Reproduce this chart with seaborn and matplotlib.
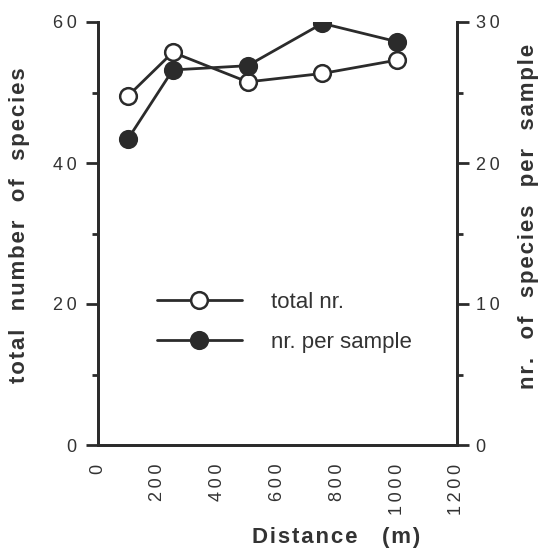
import matplotlib
matplotlib.use("Agg")
import matplotlib.pyplot as plt
from matplotlib.ticker import FuncFormatter
import seaborn as sns
import pandas as pd

distance = [100, 250, 500, 750, 1000]
total_nr = [49.5, 55.7, 51.5, 52.7, 54.6]
nr_per_sample = [21.7, 26.6, 26.9, 29.9, 28.6]

x_ticks = [0, 200, 400, 600, 800, 1000, 1200]
left_ticks = [0, 20, 40, 60]
right_ticks = [0, 10, 20, 30]

sns.set_theme(style="white")
plt.rcParams['font.family'] = ['Liberation Sans', 'DejaVu Sans']

HAIR = "\u200a"
THIN = "\u2009"


def track(s, sp=HAIR):
    return sp.join(s)


def label(words, gap="   "):
    return gap.join(track(w) for w in words)


ink = "#2b2b2b"
txt = "#333333"
fig = plt.figure(figsize=(5.41, 5.53), dpi=100)
ax = fig.add_axes([98/541, 1-445/553, (457-98)/541, (445-22)/553])
ax2 = ax.twinx()

df = pd.DataFrame({"distance": distance, "total": total_nr, "per": nr_per_sample})

sns.lineplot(data=df, x="distance", y="total", ax=ax, color=ink, lw=2.0,
             marker="o", markersize=12, markerfacecolor="white",
             markeredgecolor=ink, markeredgewidth=1.8, label="total nr.", legend=False)
sns.lineplot(data=df, x="distance", y="per", ax=ax2, color=ink, lw=2.0,
             marker="o", markersize=12, markerfacecolor=ink,
             markeredgecolor=ink, markeredgewidth=1.8, label="nr. per sample", legend=False)

ax.set_xlim(0, 1200)
ax.set_ylim(0, 60)
ax2.set_ylim(0, 30)
ax.set_xticks(x_ticks)
ax.set_xticks(range(100, 1200, 200), minor=True)
ax.set_yticks(left_ticks)
ax.set_yticks([10, 30, 50], minor=True)
ax2.set_yticks(right_ticks)
ax2.set_yticks([5, 15, 25], minor=True)

fmt = FuncFormatter(lambda v, p: track(str(int(v)), THIN))
ax.xaxis.set_major_formatter(fmt)
ax.yaxis.set_major_formatter(fmt)
ax2.yaxis.set_major_formatter(fmt)

for a in (ax, ax2):
    for s in a.spines.values():
        s.set_color(ink)
        s.set_linewidth(2.0)
    a.spines["top"].set_visible(False)
    a.grid(False)
    a.patch.set_visible(False)

ax.tick_params(axis="x", which="major", direction="out", length=8.5, width=2, color=ink,
               labelsize=13, labelcolor=txt, labelrotation=90, pad=5)
ax.tick_params(axis="x", which="minor", direction="out", length=5, width=2, color=ink)
ax.tick_params(axis="y", which="major", direction="out", length=8.5, width=2, color=ink,
               labelsize=13, labelcolor=txt, left=True, pad=7)
ax.tick_params(axis="y", which="minor", direction="out", length=4.5, width=2, color=ink, left=True)
ax2.tick_params(axis="y", which="major", direction="out", length=8.5, width=2, color=ink,
                labelsize=13, labelcolor=txt, right=True, pad=5)
ax2.tick_params(axis="y", which="minor", direction="out", length=4.5, width=2, color=ink, right=True)

ax.set_xlabel("")
ax.set_ylabel(label(["total", "number", "of", "species"]), fontsize=16, fontweight="bold",
              color=txt)
ax.yaxis.set_label_coords(-0.19, 0.52)
ax2.set_ylabel(label(["nr.", "of", "species", "per", "sample"]), fontsize=16, fontweight="bold",
               color=txt)
ax2.yaxis.set_label_coords(1.17, 0.54)
fig.text(336/541, 1-537/553, track("Distance") + "    " + track("(m)"), fontsize=16,
         fontweight="bold", color=txt, ha="center", va="center")

handles = [ax.lines[0], ax2.lines[0]]
ax2.legend(handles=handles, labels=["total nr.", "nr. per sample"], loc="upper left",
           bbox_to_anchor=(0.163, 0.362), frameon=False, fontsize=16,
           handlelength=3.85, handletextpad=1.3, labelspacing=0.85,
           borderpad=0, borderaxespad=0, labelcolor=txt)

fig.savefig("out.png", dpi=100)
